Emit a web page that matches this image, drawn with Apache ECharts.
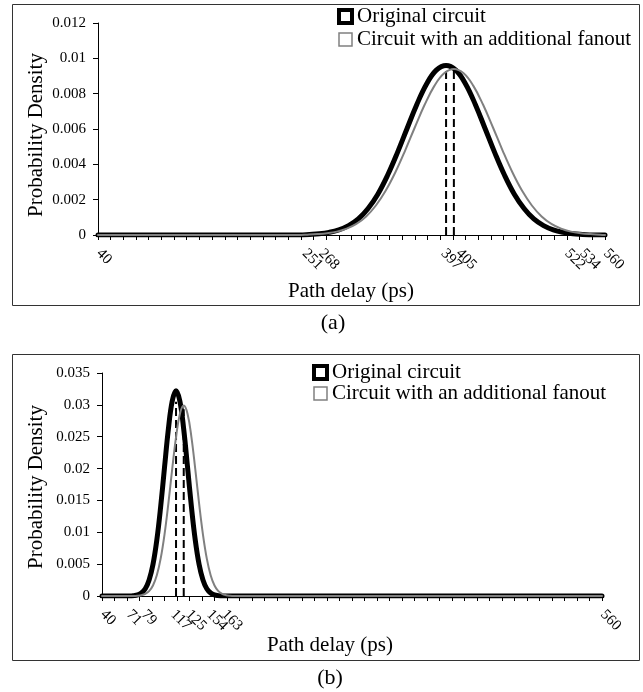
<!DOCTYPE html>
<html><head><meta charset="utf-8">
<script src="https://cdn.jsdelivr.net/npm/echarts@6/dist/echarts.min.js"></script>
<style>html,body{margin:0;padding:0;background:#fff}#c{width:643px;height:692px}</style>
</head><body><div id="c"></div>
<script>
const seriesNames = ['Original circuit', 'Circuit with an additional fanout'];
const xTitle = 'Path delay (ps)';
const yTitle = 'Probability Density';
const captions = ['(a)', '(b)'];

// Panel (a)
const aOriginal = [[40,0],[237,0],[247,0],[257,0.00003],[267,0.00007],[277,0.00015],[287,0.00029],[297,0.00053],[307,0.00091],[317,0.00150],[327,0.00231],[337,0.00338],[347,0.00465],[357,0.00603],[367,0.00739],[377,0.00855],[387,0.00933],[397,0.0096],[407,0.00933],[417,0.00855],[427,0.00739],[437,0.00603],[447,0.00465],[457,0.00338],[467,0.00231],[477,0.00150],[487,0.00091],[497,0.00053],[507,0.00029],[517,0.00015],[527,0.00007],[537,0.00003],[547,0],[557,0],[560,0]];
const aFanout = [[40,0],[235,0],[245,0],[255,0.00002],[265,0.00005],[275,0.00010],[285,0.00019],[295,0.00036],[305,0.00063],[315,0.00105],[325,0.00167],[335,0.00250],[345,0.00355],[355,0.00478],[365,0.00610],[375,0.00737],[385,0.00844],[395,0.00915],[405,0.0094],[415,0.00915],[425,0.00844],[435,0.00737],[445,0.00610],[455,0.00478],[465,0.00355],[475,0.00250],[485,0.00167],[495,0.00105],[505,0.00063],[515,0.00036],[525,0.00019],[535,0.00010],[545,0.00005],[555,0.00002],[560,0]];
const aMeans = [397, 405];
const aMeanHeights = [0.0093, 0.0094];
const aTickLabels = [40, 251, 268, 397, 405, 522, 534, 560];
const aYMax = 0.012, aYStep = 0.002;

// Panel (b)
const bOriginal = [[40,0],[65,0],[69,0],[73,0.00006],[77,0.00018],[81,0.00048],[85,0.00115],[89,0.00252],[93,0.00495],[97,0.00877],[101,0.01401],[105,0.02016],[109,0.02615],[113,0.03057],[117,0.0322],[121,0.03057],[125,0.02615],[129,0.02016],[133,0.01401],[137,0.00877],[141,0.00495],[145,0.00252],[149,0.00115],[153,0.00048],[157,0.00018],[161,0.00006],[165,0],[169,0],[560,0]];
const bFanout = [[40,0],[69,0],[73,0],[77,0.00004],[81,0.00013],[85,0.00033],[89,0.00077],[93,0.00165],[97,0.00326],[101,0.00587],[105,0.00965],[109,0.01450],[113,0.01990],[117,0.02495],[121,0.02858],[125,0.0299],[129,0.02858],[133,0.02495],[137,0.01990],[141,0.01450],[145,0.00965],[149,0.00587],[153,0.00326],[157,0.00165],[161,0.00077],[165,0.00033],[169,0.00013],[173,0.00004],[177,0],[181,0],[560,0]];
const bMeans = [117, 125];
const bMeanHeights = [0.0305, 0.0293];
const bTickLabels = [40, 71, 79, 117, 125, 154, 163, 560];
const bYMax = 0.035, bYStep = 0.005;

const xMin = 40, xMax = 560, xTickStep = 13;

const FONT = '"Liberation Serif", "Times New Roman", serif';
const tickVals = [];
for (let v = xMin; v <= xMax; v += xTickStep) tickVals.push(v);

function spread(xs, gap) {
  const clusters = [];
  xs.forEach((x, i) => {
    clusters.push({ sum: x, n: 1, idx: [i] });
    while (clusters.length > 1) {
      const b = clusters[clusters.length - 1], a = clusters[clusters.length - 2];
      const aEnd = a.sum / a.n + (a.n - 1) * gap / 2;
      const bStart = b.sum / b.n - (b.n - 1) * gap / 2;
      if (bStart - aEnd < gap) {
        a.sum += b.sum; a.n += b.n; a.idx = a.idx.concat(b.idx); clusters.pop();
      } else break;
    }
  });
  const out = [];
  clusters.forEach(c => {
    const m = c.sum / c.n;
    c.idx.forEach((i, k) => { out[i] = m + (k - (c.n - 1) / 2) * gap; });
  });
  return out;
}

function labelSeries(ai, values) {
  return {
    type: 'custom', xAxisIndex: ai, yAxisIndex: ai, silent: true, clip: false, z: 10,
    data: values.map(v => [v, 0]),
    renderItem(params, api) {
      const xs = values.map(v => api.coord([v, 0])[0]);
      const pos = spread(xs, 15);
      const y0 = api.coord([values[0], 0])[1];
      return {
        type: 'text', x: pos[params.dataIndex] + 6, y: y0 + 11, rotation: -Math.PI / 4,
        style: { text: String(values[params.dataIndex]), font: '15px ' + FONT, fill: '#000', align: 'left', verticalAlign: 'top' }
      };
    }
  };
}

function curve(ai, name, data, color, width, z) {
  return { type: 'line', name, xAxisIndex: ai, yAxisIndex: ai, data, smooth: 0.4,
    showSymbol: false, symbol: 'none', z, lineStyle: { color, width, cap: 'round', join: 'round' }, itemStyle: { color } };
}
function dashes(ai, means, heights) {
  return means.map((m, i) => ({ type: 'line', xAxisIndex: ai, yAxisIndex: ai, data: [[m, 0], [m, heights[i]]],
    showSymbol: false, symbol: 'none', z: 4, lineStyle: { color: '#000', width: 2, type: [8, 4] } }));
}

function xAxis(gi) {
  return { type: 'value', gridIndex: gi, min: xMin, max: xMax,
    axisLine: { show: true, lineStyle: { color: '#000', width: 1 } },
    axisTick: { show: true, customValues: tickVals, length: 5, lineStyle: { color: '#000' } },
    axisLabel: { show: false }, splitLine: { show: false } };
}
function yAxis(gi, max, step) {
  return { type: 'value', gridIndex: gi, min: 0, max, interval: step,
    axisLine: { show: true, lineStyle: { color: '#000', width: 1 } },
    axisTick: { show: true, length: 5, lineStyle: { color: '#000' } },
    axisLabel: { fontFamily: FONT, fontSize: 15, color: '#000', margin: 12 },
    splitLine: { show: false } };
}
function legend(left, top, lh) {
  return { left, top, padding: 0, orient: 'vertical', itemWidth: 13, itemHeight: 13, itemGap: 0, selectedMode: false,
    textStyle: { fontFamily: FONT, fontSize: 21, color: '#000', lineHeight: lh },
    data: [
      { name: seriesNames[0], icon: 'rect', itemStyle: { color: '#fff', borderColor: '#000', borderWidth: 4 } },
      { name: seriesNames[1], icon: 'rect', itemStyle: { color: '#fff', borderColor: '#808080', borderWidth: 1.5 } }
    ] };
}

const chart = echarts.init(document.getElementById('c'), null, { renderer: 'canvas' });
chart.setOption({
  animation: false,
  backgroundColor: '#fff',
  grid: [
    { left: 98, right: 38, top: 23, bottom: 457 },
    { left: 102, right: 41, top: 373, bottom: 96 }
  ],
  xAxis: [xAxis(0), xAxis(1)],
  yAxis: [yAxis(0, aYMax, aYStep), yAxis(1, bYMax, bYStep)],
  legend: [legend(337, 5, 23), legend(312, 362, 21)],
  graphic: [
    { type: 'rect', shape: { x: 12.5, y: 4.5, width: 627, height: 301 }, style: { fill: 'none', stroke: '#333', lineWidth: 1 } },
    { type: 'rect', shape: { x: 12.5, y: 354.5, width: 627, height: 306 }, style: { fill: 'none', stroke: '#333', lineWidth: 1 } },
    { type: 'text', x: 351, y: 291, style: { text: xTitle, font: '21px ' + FONT, fill: '#000', align: 'center', verticalAlign: 'middle' } },
    { type: 'text', x: 330, y: 645, style: { text: xTitle, font: '21px ' + FONT, fill: '#000', align: 'center', verticalAlign: 'middle' } },
    { type: 'text', x: 36, y: 135, rotation: Math.PI / 2, style: { text: yTitle, font: '21px ' + FONT, fill: '#000', align: 'center', verticalAlign: 'middle' } },
    { type: 'text', x: 36, y: 487, rotation: Math.PI / 2, style: { text: yTitle, font: '21px ' + FONT, fill: '#000', align: 'center', verticalAlign: 'middle' } },
    { type: 'text', x: 333, y: 323, style: { text: captions[0], font: '22px ' + FONT, fill: '#000', align: 'center', verticalAlign: 'middle' } },
    { type: 'text', x: 330, y: 678, style: { text: captions[1], font: '22px ' + FONT, fill: '#000', align: 'center', verticalAlign: 'middle' } }
  ],
  series: [
    curve(0, seriesNames[0], aOriginal, '#000', 5, 3),
    curve(0, seriesNames[1], aFanout, '#808080', 2, 5),
    ...dashes(0, aMeans, aMeanHeights),
    labelSeries(0, aTickLabels),
    curve(1, seriesNames[0], bOriginal, '#000', 5, 3),
    curve(1, seriesNames[1], bFanout, '#808080', 2, 5),
    ...dashes(1, bMeans, bMeanHeights),
    labelSeries(1, bTickLabels)
  ]
});
</script></body></html>
